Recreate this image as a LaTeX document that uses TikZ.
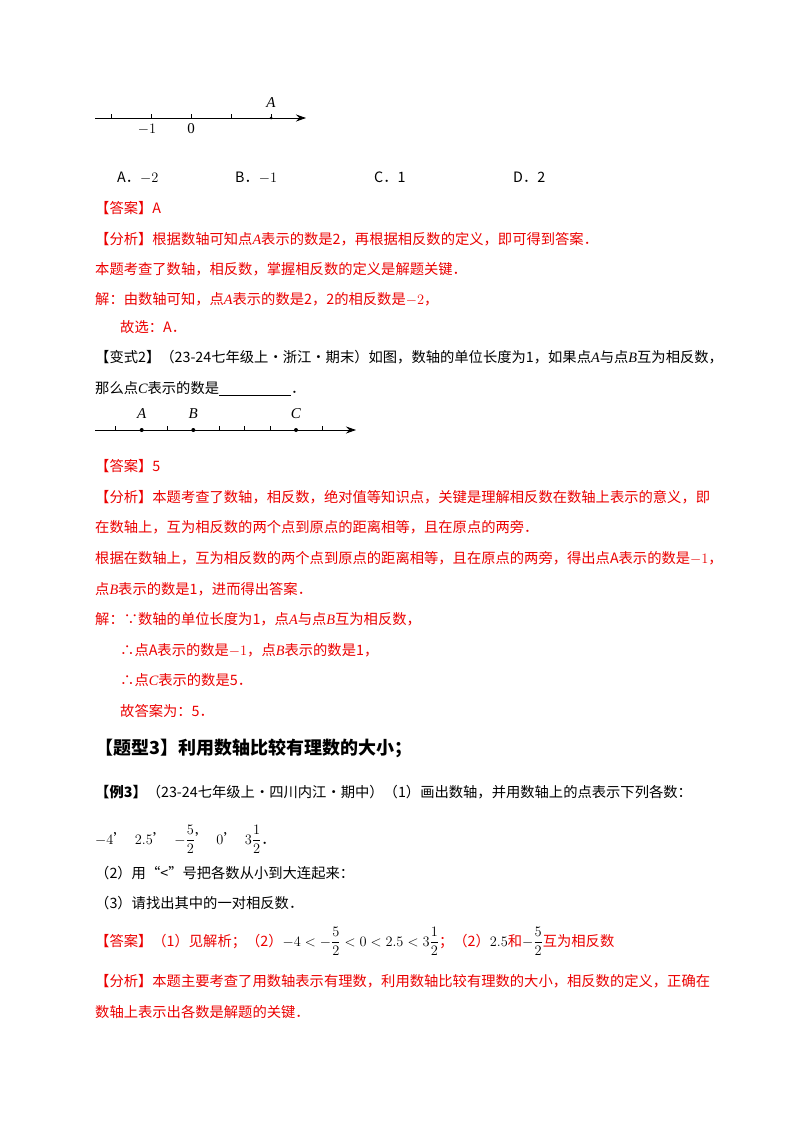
\documentclass[tikz,border=0pt]{standalone}
\usepackage{amsmath}
\usepackage{fontspec}
\setmainfont{Noto Sans CJK SC}
\newfontfamily\tnr{Liberation Serif}
\newcommand\iv[1]{{\tnr\itshape #1}}
\usetikzlibrary{arrows.meta}
\definecolor{ansred}{RGB}{235,0,0}
\tikzset{
  ln/.style={anchor=base west,inner sep=0pt,font=\fontsize{14.3}{17}\selectfont},
  rd/.style={ln,text=ansred},
  axis/.style={line width=0.8pt,-{Stealth[length=10pt,width=7pt]}},
  tk/.style={line width=0.7pt},
  dt/.style={circle,fill=black,inner sep=0pt,minimum size=4pt},
  lab/.style={inner sep=0pt,font=\tnr\fontsize{15}{16}\selectfont}
}
\begin{document}
\begin{tikzpicture}[x=1pt,y=-1pt]
\useasboundingbox (0,0) rectangle (800,1132);
% number line 1
\coordinate (a1s) at (95,118); \coordinate (a1e) at (306,118);
\draw[axis] (a1s) -- (a1e);
\foreach \x in {111,151,191,231,271} \draw[tk] (\x,118) -- (\x,114);
\node[dt,minimum size=3pt] (pA) at (271,118) {};
\node[lab] (lA) at (271,103) {\textit{A}};
\node[lab] (lm1) at (147,129) {$-1$};
\node[lab] (l0) at (191,129) {0};
% options
\node[ln] (oA) at (117,182) {A．\tnr$-2$};
\node[ln] (oB) at (235,182) {B．\tnr$-1$};
\node[ln] (oC) at (374,182) {C．1};
\node[ln] (oD) at (513,182) {D．2};
\node[rd] (t1) at (95,213) {【答案】A};
\node[rd] (t2) at (95,244) {【分析】根据数轴可知点\iv{A}表示的数是2，再根据相反数的定义，即可得到答案．};
\node[rd] (t3) at (95,274) {本题考查了数轴，相反数，掌握相反数的定义是解题关键．};
\node[rd] (t4) at (95,304) {解：由数轴可知，点\iv{A}表示的数是2，2的相反数是$-2$，};
\node[rd] (t5) at (120,332) {故选：A．};
\node[ln] (t6) at (95,362) {【变式2】（23-24七年级上·浙江·期末）如图，数轴的单位长度为1，如果点\iv{A}与点\iv{B}互为相反数，};
\node[ln] (t7) at (95,393) {那么点\iv{C}表示的数是\underline{\hbox to 72pt{}}．};
% number line 2
\draw[axis] (95,430) -- (356,430);
\foreach \x in {115.7,167.3,219,244.7,270.3,322} \draw[tk] (\x,430) -- (\x,426);
\node[dt] (pA2) at (141.7,430) {};
\node[dt] (pB2) at (193.3,430) {};
\node[dt] (pC2) at (296,430) {};
\node[lab] (lA2) at (141.7,414) {\textit{A}};
\node[lab] (lB2) at (193.3,414) {\textit{B}};
\node[lab] (lC2) at (296,414) {\textit{C}};
\node[rd] (s1) at (95,471) {【答案】5};
\node[rd] (s2) at (95,502) {【分析】本题考查了数轴，相反数，绝对值等知识点，关键是理解相反数在数轴上表示的意义，即};
\node[rd] (s3) at (95,532) {在数轴上，互为相反数的两个点到原点的距离相等，且在原点的两旁．};
\node[rd] (s4) at (95,563) {根据在数轴上，互为相反数的两个点到原点的距离相等，且在原点的两旁，得出点A表示的数是$-1$，};
\node[rd] (s5) at (95,594) {点\iv{B}表示的数是1，进而得出答案．};
\node[rd] (s6) at (95,624) {解：∵数轴的单位长度为1，点\iv{A}与点\iv{B}互为相反数，};
\node[rd] (s7) at (120,655) {∴点A表示的数是$-1$，点\iv{B}表示的数是1，};
\node[rd] (s8) at (120,685) {∴点\iv{C}表示的数是5．};
\node[rd] (s9) at (120,716) {故答案为：5．};
\node[ln,font=\bfseries\fontsize{18}{20}\selectfont] (h3) at (95,754) {【题型3】利用数轴比较有理数的大小；};
\node[ln] (e1) at (95,797) {\textbf{【例3】}（23-24七年级上·四川内江·期中）（1）画出数轴，并用数轴上的点表示下列各数：};
\node[ln] (e2) at (95,844) {$-4$’\enspace$2.5$’\enspace$-\dfrac{5}{2}$’\enspace$0$’\enspace$3\dfrac{1}{2}$．};
\node[ln] (e3) at (95,878) {（2）用“<”号把各数从小到大连起来：};
\node[ln] (e4) at (95,908) {（3）请找出其中的一对相反数．};
\node[rd] (e5) at (95,946) {【答案】（1）见解析；（2）\textcolor{black}{$-4<-\dfrac{5}{2}<0<2.5<3\dfrac{1}{2}$}；（2）\textcolor{black}{$2.5$}和\textcolor{black}{$-\dfrac{5}{2}$}互为相反数};
\node[rd] (e6) at (95,986) {【分析】本题主要考查了用数轴表示有理数，利用数轴比较有理数的大小，相反数的定义，正确在};
\node[rd] (e7) at (95,1017) {数轴上表示出各数是解题的关键．};
\end{tikzpicture}
\end{document}
